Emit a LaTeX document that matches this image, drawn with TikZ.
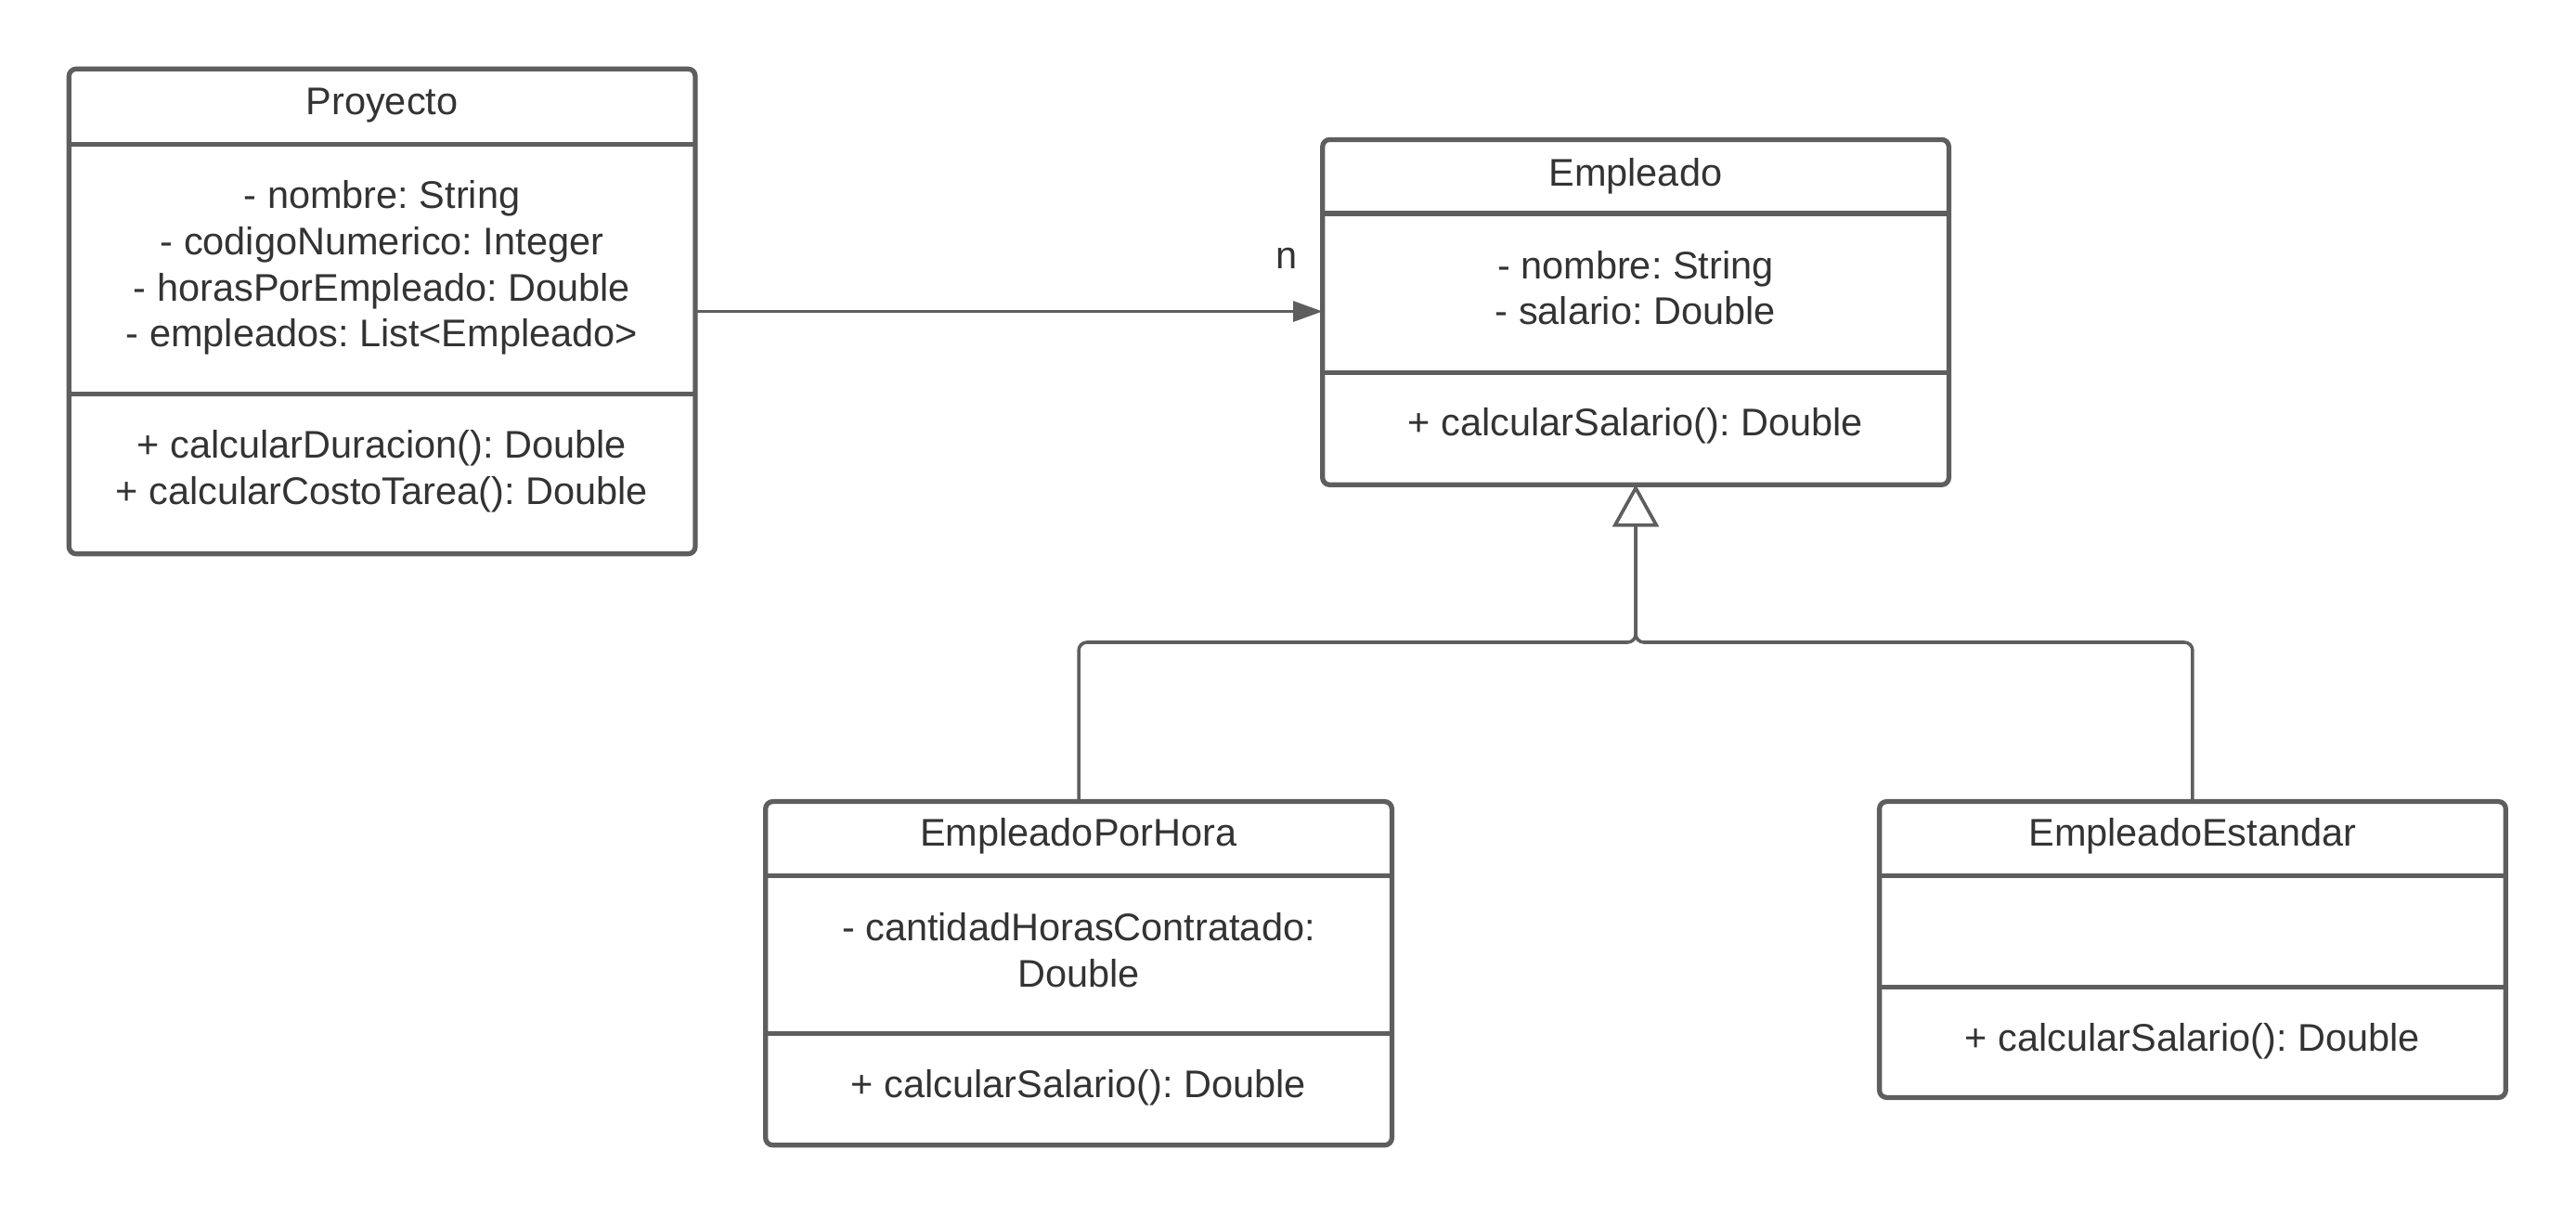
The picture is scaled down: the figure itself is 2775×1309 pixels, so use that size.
\documentclass[tikz,border=0pt]{standalone}
\usepackage{fontspec}
\setmainfont{Liberation Sans}
\usetikzlibrary{arrows.meta}
\definecolor{umlline}{HTML}{5E5E5E}
\definecolor{umltext}{HTML}{333333}
\frenchspacing
\begin{document}
\begin{tikzpicture}[x=0.01cm,y=-0.01cm,
  classbox/.style={draw=umlline, line width=1.5pt, rounded corners=2.2pt,
    rectangle, inner sep=0pt, outer sep=0pt, minimum width=6.743cm, anchor=north west},
  divider/.style={draw=umlline, line width=1.5pt},
  conn/.style={draw=umlline, line width=1pt},
  txt/.style={text=umltext, align=center, inner sep=0pt,
    font=\fontsize{11.8pt}{14.1pt}\selectfont},
  assoc/.style={-{Triangle[length=9pt,width=6.2pt]}},
  inherit/.style={-{Triangle[length=12.8pt,width=14pt,fill=white,line width=1pt]}}
]
\useasboundingbox (0,0) rectangle (2775,1309);

% ---- Proyecto ----
\node[classbox, minimum height=5.221cm] (proy) at (74.3,74.3) {};
\draw[divider] (proy.west |- 0,155.7) -- (proy.east |- 0,155.7);
\draw[divider] (proy.west |- 0,424.7) -- (proy.east |- 0,424.7);
\node[txt] (proyT) at (411.5,113.2) {Proyecto};
\node[txt] (proyA) at (411.5,288.5) {- nombre: String\\- codigoNumerico: Integer\\- horasPorEmpleado: Double\\- empleados: List<Empleado>};
\node[txt] (proyM) at (411.5,507.9) {+ calcularDuracion(): Double\\+ calcularCostoTarea(): Double};

% ---- Empleado ----
\node[classbox, minimum height=3.717cm] (emp) at (1424.7,150.4) {};
\draw[divider] (emp.west |- 0,230.1) -- (emp.east |- 0,230.1);
\draw[divider] (emp.west |- 0,401.7) -- (emp.east |- 0,401.7);
\node[txt] (empT) at (1761.8,189.3) {Empleado};
\node[txt] (empA) at (1761.8,310) {- nombre: String\\- salario: Double};
\node[txt] (empM) at (1761.8,458.3) {+ calcularSalario(): Double};

% ---- EmpleadoPorHora ----
\node[classbox, minimum height=3.699cm] (eph) at (824.7,863.6) {};
\draw[divider] (eph.west |- 0,943.3) -- (eph.east |- 0,943.3);
\draw[divider] (eph.west |- 0,1113.2) -- (eph.east |- 0,1113.2);
\node[txt] (ephT) at (1161.9,900.8) {EmpleadoPorHora};
\node[txt] (ephA) at (1161.9,1023.5) {- cantidadHorasContratado:\\Double};
\node[txt] (ephM) at (1161.9,1171.5) {+ calcularSalario(): Double};

% ---- EmpleadoEstandar ----
\node[classbox, minimum height=3.186cm] (ee) at (2024.6,863.6) {};
\draw[divider] (ee.west |- 0,943.3) -- (ee.east |- 0,943.3);
\draw[divider] (ee.west |- 0,1063.6) -- (ee.east |- 0,1063.6);
\node[txt] (eeT) at (2361.8,900.8) {EmpleadoEstandar};
\node[txt] (eeM) at (2361.8,1122) {+ calcularSalario(): Double};

% ---- association Proyecto -> Empleado ----
\draw[conn, assoc] (proy.east) -- (proy.east -| emp.west);
\node[txt] (mult) at (1385.7,278) {n};

% ---- generalization ----
\coordinate (bus) at (emp.south |- 0,692);
\draw[conn, inherit, rounded corners=2.5pt] (eph.north) |- (bus) -- (emp.south);
\draw[conn, inherit, rounded corners=2.5pt] (ee.north) |- (bus) -- (emp.south);
\end{tikzpicture}
\end{document}
